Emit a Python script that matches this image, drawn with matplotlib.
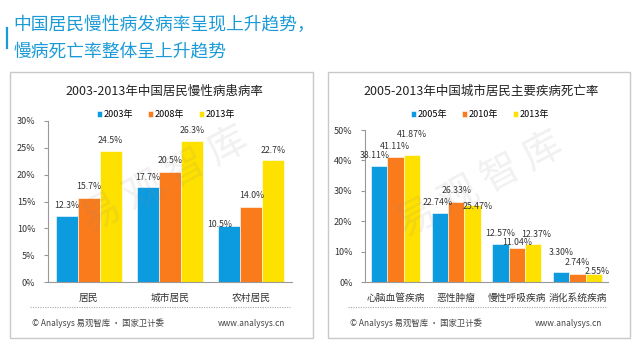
import matplotlib.pyplot as plt
from matplotlib.patches import Rectangle
from matplotlib.lines import Line2D
import numpy as np

plt.rcParams['font.family'] = ['Noto Sans CJK SC', 'DejaVu Sans']

# data, left chart (prevalence)
left_cats = ['居民', '城市居民', '农村居民']
left_years = ['2003年', '2008年', '2013年']
left_2003 = [12.3, 17.7, 10.5]
left_2008 = [15.7, 20.5, 14.0]
left_2013 = [24.5, 26.3, 22.7]

# data, right chart (mortality)
right_cats = ['心脑血管疾病', '恶性肿瘤', '慢性呼吸疾病', '消化系统疾病']
right_years = ['2005年', '2010年', '2013年']
right_2005 = [38.11, 22.74, 12.57, 3.30]
right_2010 = [41.11, 26.33, 11.04, 2.74]
right_2013 = [41.87, 25.47, 12.37, 2.55]

colors = ['#0d9be0', '#fa7b1c', '#ffe100']
W, H = 640, 360


def px_rect(x0, y0, x1, y1):
    # pixel box (top-left origin) -> figure fraction
    return [x0 / W, 1 - y1 / H, (x1 - x0) / W, (y1 - y0) / H]


fig = plt.figure(figsize=(6.4, 3.6), dpi=100)
fig.patch.set_facecolor('white')

# headline
fig.add_artist(Line2D([7 / W, 7 / W], [1 - 28 / H, 1 - 48 / H], color='#1a9ad6', lw=1.6))
fig.text(13 / W, 1 - 25 / H, '中国居民慢性病发病率呈现上升趋势，', color='#1a9ad6', fontsize=12.8, va='center')
fig.text(13 / W, 1 - 51 / H, '慢病死亡率整体呈上升趋势', color='#1a9ad6', fontsize=12.8, va='center')

# panel frames
for x0, x1 in [(10, 313), (328, 630)]:
    fig.add_artist(Rectangle((x0 / W, 1 - 338 / H), (x1 - x0) / W, 266 / H,
                             transform=fig.transFigure, fill=False, ec='#c9c9c9', lw=1.0))


def draw_panel(rect, cats, series, years, ymax, step, title, title_x, leg_x, dots, dy_list, dx_list, fmt):
    ax = fig.add_axes(px_rect(*rect))
    x = np.arange(len(cats))
    w = 0.27
    for i, vals in enumerate(series):
        xs = x + (i - 1) * w
        ax.bar(xs, vals, w, color=colors[i], ec='white', lw=0.4, label=years[i], zorder=2)
        for j, v in enumerate(vals):
            ax.annotate(fmt % v + '%', (xs[j], v), xytext=(dx_list[i][j], dy_list[i][j]),
                        textcoords='offset pixels', ha='center', va='center', fontsize=6.3, color='#333333')
    ax.set_xlim(-0.5, len(cats) - 0.5)
    ax.set_ylim(0, ymax)
    ticks = np.arange(0, ymax + 0.01, step)
    ax.set_yticks(ticks)
    ax.set_yticklabels(['%d%%' % t for t in ticks], fontsize=6.5, color='#333333')
    ax.set_xticks(x)
    ax.set_xticklabels(cats, fontsize=7, color='#333333')
    ax.tick_params(axis='x', length=0, pad=8)
    ax.tick_params(axis='y', length=3, color='#999999', pad=6)
    for s in ['top', 'right']:
        ax.spines[s].set_visible(False)
    ax.spines['left'].set_color('#999999')
    ax.spines['bottom'].set_color('#999999')
    fig.text(title_x / W, 1 - 91 / H, title, fontsize=9, ha='center', va='center', color='#222222')
    fig.legend(*ax.get_legend_handles_labels(), loc='center', bbox_to_anchor=(leg_x / W, 1 - 115 / H),
               ncol=3, frameon=False, fontsize=6.5, handlelength=0.6, handleheight=0.6,
               handletextpad=0.2, columnspacing=1.6)
    # dotted separator + footer
    fig.add_artist(Line2D([dots[0] / W, dots[1] / W], [1 - 307 / H, 1 - 307 / H],
                          color='#aaaaaa', lw=0.8, ls=(0, (1, 1.2))))
    fig.text(dots[0] / W + 2 / W, 1 - 323 / H, '© Analysys 易观智库 · 国家卫计委', fontsize=6,
             va='center', color='#444444')
    fig.text(dots[1] / W - 5 / W, 1 - 323 / H, 'www.analysys.cn', fontsize=6, ha='right',
             va='center', color='#444444')
    return ax


draw_panel((48, 121, 292, 282), left_cats, [left_2003, left_2008, left_2013], left_years,
           30, 5, '2003-2013年中国居民慢性病患病率', 164, 166, (30, 290),
           [[10, 10, 1], [11, 11, 11], [10, 10, 10]],
           [[0, 0, -10], [0, 0, 0], [0, 0, 0]], '%.1f')

draw_panel((365, 130, 608, 282), right_cats, [right_2005, right_2010, right_2013], right_years,
           50, 10, '2005-2013年中国城市居民主要疾病死亡率', 481, 480, (348, 607),
           [[11, 10, 10, 19], [11, 11, 6, 11], [20, -2, 10, 3]],
           [[-4, -2, 0, 0], [0, 0, 0, 0], [0, 5, 3, 3]], '%.2f')

# faint watermark
fig.text(165 / W, 1 - 180 / H, '易 观 智 库', fontsize=28, rotation=28, color='#888888',
         alpha=0.12, ha='center', va='center')
fig.text(480 / W, 1 - 185 / H, '易 观 智 库', fontsize=28, rotation=28, color='#888888',
         alpha=0.12, ha='center', va='center')

fig.savefig('out.png', dpi=100)
